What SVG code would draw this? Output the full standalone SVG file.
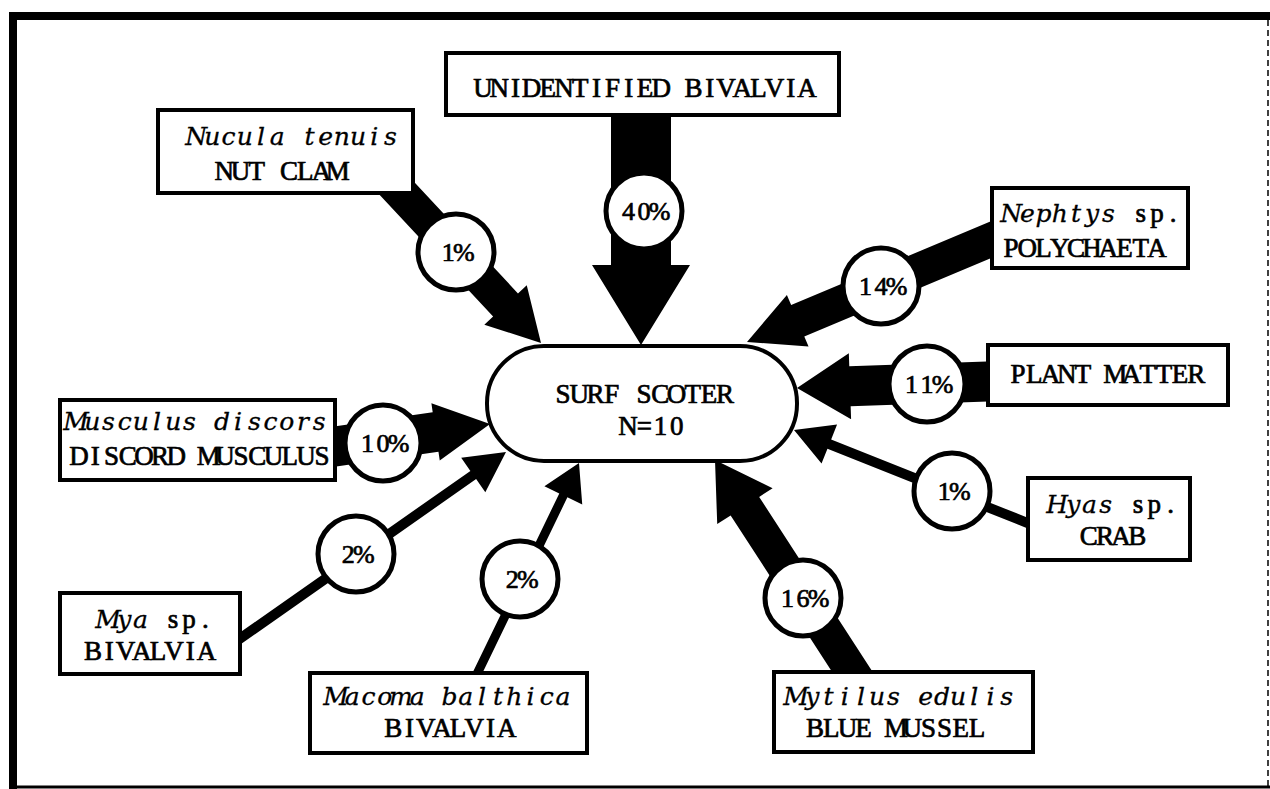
<svg xmlns="http://www.w3.org/2000/svg" width="1270" height="789" viewBox="0 0 1270 789">
  <style>
    .frame { stroke: #000; fill: none; }
    .arrow { fill: #000; }
    .box { fill: #fff; stroke: #000; stroke-width: 4; }
    .pct { fill: #fff; stroke: #000; stroke-width: 5; }
    .hub { fill: #fff; stroke: #000; stroke-width: 4; }
    /* typewriter pitch: every glyph is centred on its own x cell */
    .t { font-family: "Liberation Serif", "DejaVu Serif", serif; font-size: 27px; fill: #000; stroke: #000; stroke-width: 0.7; text-anchor: middle; }
    .p { font-size: 26px; }
    .i { font-family: "DejaVu Serif", "Liberation Serif", serif; font-style: italic; font-size: 25px; stroke-width: 0.3; }
  </style>

  <rect x="0" y="0" width="1270" height="789" fill="#fff"/>

  <!-- page frame -->
  <g id="frame">
    <line class="frame" x1="9" y1="16" x2="1270" y2="16" stroke-width="8"/>
    <line class="frame" x1="13" y1="12" x2="13" y2="789" stroke-width="8"/>
    <line class="frame" x1="9" y1="787" x2="1270" y2="787" stroke-width="3"/>
    <line class="frame" x1="1268" y1="20" x2="1268" y2="787" stroke-width="1.5" stroke="#888" stroke-dasharray="6 4"/>
  </g>

  <!-- feeding links: tip at the origin, pointing along +x -->
  <g id="connectors">
    <polygon id="c-unidentified" class="arrow" transform="translate(641,345) rotate(90)" points="0,0 -80,-49 -80,-30 -232,-30 -232,30 -80,30 -80,49"/>
    <polygon id="c-nucula" class="arrow" transform="translate(541,343) rotate(47)" points="0,0 -52,-29 -52,-17 -223,-17 -223,17 -52,17 -52,29"/>
    <polygon id="c-nephtys" class="arrow" transform="translate(747,342) rotate(157.25)" points="0,0 -55,-28 -55,-17 -280,-17 -280,17 -55,17 -55,28"/>
    <polygon id="c-plant" class="arrow" transform="translate(797,388) rotate(178.03)" points="0,0 -53,-33 -53,-20 -205,-20 -205,20 -53,20 -53,33"/>
    <polygon id="c-hyas" class="arrow" transform="translate(794,430) rotate(201.72)" points="0,0 -38,-21 -38,-5 -265,-5 -265,5 -38,5 -38,21"/>
    <polygon id="c-mytilus" class="arrow" transform="translate(715,460) rotate(237.05)" points="0,0 -55,-33 -55,-17 -275,-17 -275,17 -55,17 -55,33"/>
    <polygon id="c-macoma" class="arrow" transform="translate(579,463) rotate(-64.2)" points="0,0 -36,-21 -36,-4.5 -245,-4.5 -245,4.5 -36,4.5 -36,21"/>
    <polygon id="c-mya" class="arrow" transform="translate(506,452) rotate(-35.05)" points="0,0 -40,-21 -40,-5 -335,-5 -335,5 -40,5 -40,21"/>
    <polygon id="c-musculus" class="arrow" transform="translate(490,424) rotate(-8.28)" points="0,0 -55,-29 -55,-20 -167,-20 -167,20 -55,20 -55,29"/>
  </g>

  <!-- prey boxes -->
  <g id="n-unidentified">
    <rect class="box" x="446" y="53" width="393" height="62"/>
    <text class="t" y="97" x="483 499.2 515.4 531.6 547.8 564 580.2 596.4 612.6 628.8 645 661.2 677.4 693.6 709.8 726 742.2 758.4 774.6 790.8 807">UNIDENTIFIED BIVALVIA</text>
  </g>
  <g id="n-nucula">
    <rect class="box" x="158" y="110" width="255" height="83"/>
    <text class="t i" y="145" x="196.1 212.3 228.5 244.7 260.9 277.1 293.3 309.5 325.7 341.9 358.1 374.3 390.5">Nucula tenuis</text>
    <text class="t" y="180" x="224.3 240.5 256.7 272.9 289.1 305.3 321.5 337.7">NUT CLAM</text>
  </g>
  <g id="n-nephtys">
    <rect class="box" x="992" y="188" width="196" height="80"/>
    <text class="t" y="222"><tspan class="i" x="1011.1 1027.3 1043.5 1059.7 1075.9 1092.1 1108.3">Nephtys</tspan><tspan x="1124.5 1140.7 1156.9 1173.1"> sp.</tspan></text>
    <text class="t" y="257" x="1011.1 1027.3 1043.5 1059.7 1075.9 1092.1 1108.3 1124.5 1140.7 1156.9">POLYCHAETA</text>
  </g>
  <g id="n-plant">
    <rect class="box" x="988" y="345" width="240" height="60"/>
    <text class="t" y="383" x="1018.1 1034.3 1050.5 1066.7 1082.9 1099.1 1115.3 1131.5 1147.7 1163.9 1180.1 1196.3">PLANT MATTER</text>
  </g>
  <g id="n-hyas">
    <rect class="box" x="1028" y="478" width="162" height="82"/>
    <text class="t" y="513"><tspan class="i" x="1057.1 1073.3 1089.5 1105.7">Hyas</tspan><tspan x="1121.9 1138.1 1154.3 1170.5"> sp.</tspan></text>
    <text class="t" y="545" x="1088.7 1104.9 1121.1 1137.3">CRAB</text>
  </g>
  <g id="n-mytilus">
    <rect class="box" x="774" y="672" width="259" height="80"/>
    <text class="t i" y="705" x="796.1 812.3 828.5 844.7 860.9 877.1 893.3 909.5 925.7 941.9 958.1 974.3 990.5 1006.7">Mytilus edulis</text>
    <text class="t" y="737" x="815 831.2 847.4 863.6 879.8 896 912.2 928.4 944.6 960.8 977">BLUE MUSSEL</text>
  </g>
  <g id="n-macoma">
    <rect class="box" x="310" y="673" width="277" height="80"/>
    <text class="t i" y="705" x="336.1 352.3 368.5 384.7 400.9 417.1 433.3 449.5 465.7 481.9 498.1 514.3 530.5 546.7 562.9">Macoma balthica</text>
    <text class="t" y="737" x="393.3 409.5 425.7 441.9 458.1 474.3 490.5 506.7">BIVALVIA</text>
  </g>
  <g id="n-mya">
    <rect class="box" x="60" y="593" width="180" height="81"/>
    <text class="t" y="628"><tspan class="i" x="108.1 124.3 140.5">Mya</tspan><tspan x="156.7 172.9 189.1 205.3"> sp.</tspan></text>
    <text class="t" y="660" x="93.1 109.3 125.5 141.7 157.9 174.1 190.3 206.5">BIVALVIA</text>
  </g>
  <g id="n-musculus">
    <rect class="box" x="60" y="400" width="275" height="80"/>
    <text class="t i" y="430" x="76.1 92.3 108.5 124.7 140.9 157.1 173.3 189.5 205.7 221.9 238.1 254.3 270.5 286.7 302.9 319.1">Musculus discors</text>
    <text class="t" y="465" x="79.1 95.3 111.5 127.7 143.9 160.1 176.3 192.5 208.7 224.9 241.1 257.3 273.5 289.7 305.9 322.1">DISCORD MUSCULUS</text>
  </g>

  <!-- percentage discs on the links -->
  <g id="p-unidentified"><circle class="pct" cx="644" cy="211" r="38"/><text class="t p" y="220" x="628.5 644 659.5">40%</text></g>
  <g id="p-nucula"><circle class="pct" cx="456" cy="252" r="38"/><text class="t p" y="261" x="448.2 463.8">1%</text></g>
  <g id="p-nephtys"><circle class="pct" cx="881" cy="286" r="38"/><text class="t p" y="295" x="865.5 881 896.5">14%</text></g>
  <g id="p-plant"><circle class="pct" cx="927" cy="384" r="38"/><text class="t p" y="393" x="911.5 927 942.5">11%</text></g>
  <g id="p-hyas"><circle class="pct" cx="952" cy="491" r="38"/><text class="t p" y="500" x="944.2 959.8">1%</text></g>
  <g id="p-mytilus"><circle class="pct" cx="803" cy="598" r="38"/><text class="t p" y="607" x="787.5 803 818.5">16%</text></g>
  <g id="p-macoma"><circle class="pct" cx="520" cy="579" r="38"/><text class="t p" y="588" x="512.2 527.8">2%</text></g>
  <g id="p-mya"><circle class="pct" cx="356" cy="554" r="38"/><text class="t p" y="563" x="348.2 363.8">2%</text></g>
  <g id="p-musculus"><circle class="pct" cx="383" cy="443" r="38"/><text class="t p" y="452" x="367.5 383 398.5">10%</text></g>

  <!-- predator -->
  <g id="n-surf-scoter">
    <rect class="hub" x="487" y="346" width="310" height="115" rx="57" ry="57"/>
    <text class="t" y="403" x="563.1 579.3 595.5 611.7 627.9 644.1 660.3 676.5 692.7 708.9 725.1">SURF SCOTER</text>
    <text class="t" y="435" x="628.1 644.3 660.5 676.7">N=10</text>
  </g>
</svg>
